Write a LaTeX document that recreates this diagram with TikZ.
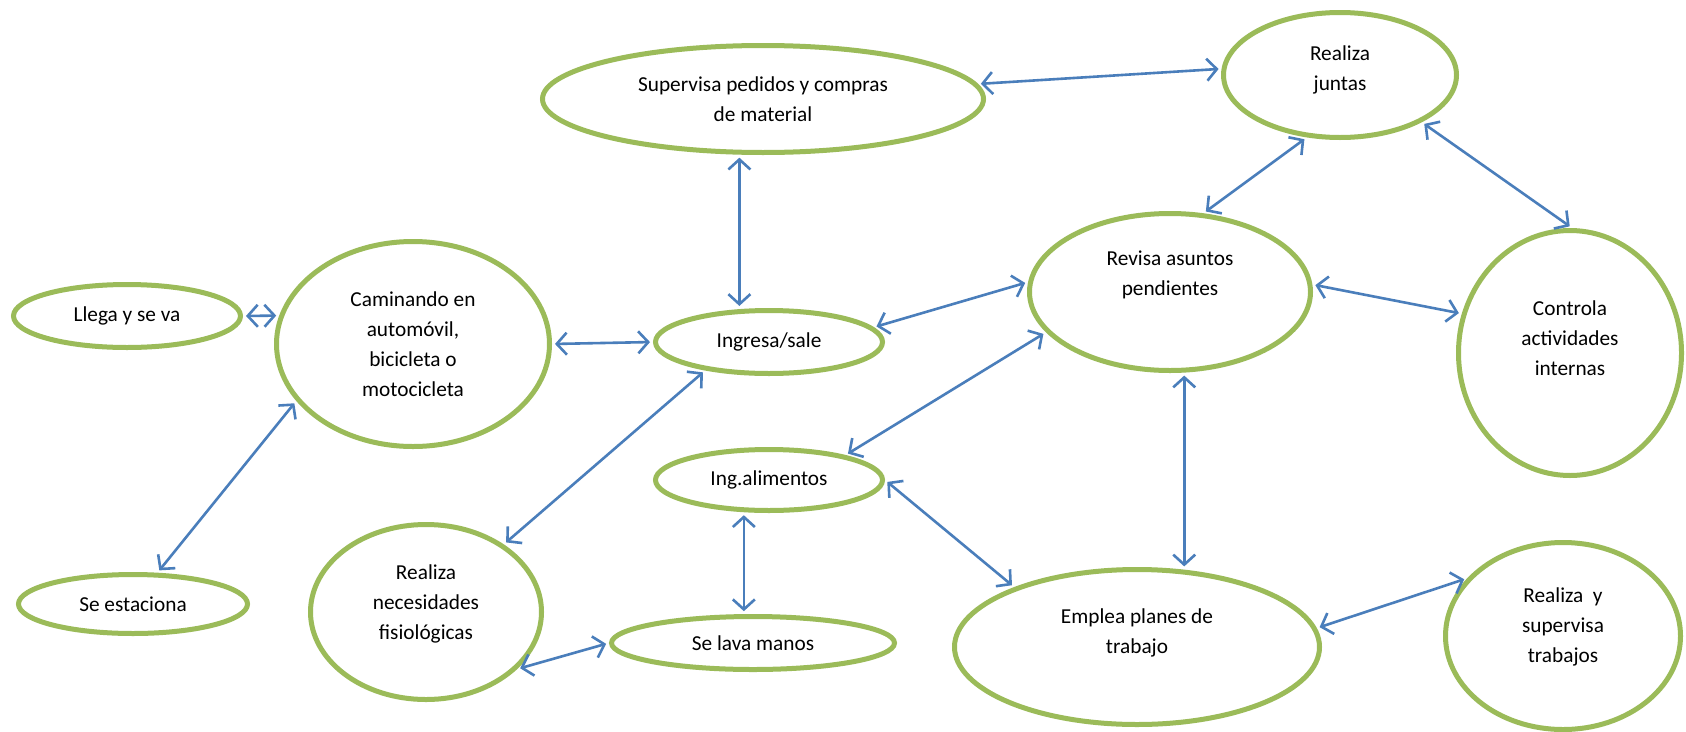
\documentclass[tikz,border=0pt]{standalone}
\usepackage{fontspec}
\setmainfont{Carlito}
\usetikzlibrary{arrows.meta,shapes.geometric}
\definecolor{elg}{HTML}{9BBB59}
\definecolor{arb}{HTML}{4A7EBB}
\begin{document}
\begin{tikzpicture}[x=1pt,y=-1pt,
  el/.style args={#1/#2}{ellipse, draw=elg, line width=5pt, minimum width=#1pt, minimum height=#2pt, inner sep=0pt, fill=white, font=\fontsize{21.3}{30}\selectfont, align=center},
  lab/.style={font=\fontsize{21.3}{30}\selectfont, align=center, inner sep=0pt},
  arr/.style={draw=arb, line width=2.6pt, shorten <=3pt, shorten >=3pt, {Straight Barb[length=10pt,width=22pt]}-{Straight Barb[length=10pt,width=22pt]}}]
\useasboundingbox[fill=white] (0,0) rectangle (1686,731);
\node[el=227/63] (llega) at (127,316) {Llega y se va};
\node[el=273/205] (cam) at (413,344) {Caminando en\\automóvil,\\bicicleta o\\motocicleta};
\node[el=229/59] (est) at (133,604) {Se estaciona};
\node[el=441/107] (sup) at (763,99) {Supervisa pedidos y compras\\de material};
\node[el=227/63] (ing) at (769,342) {Ingresa/sale};
\node[el=233/125, label={[lab,yshift=5pt]center:{Realiza\\juntas}}] (jun) at (1340,75) {};
\node[el=281/157, label={[lab,yshift=17pt]center:{Revisa asuntos\\pendientes}}] (rev) at (1170,292) {};
\node[el=223/245, label={[lab,yshift=15pt]center:{Controla\\actividades\\internas}}] (con) at (1570,353) {};
\node[el=227/61] (ali) at (769,480) {Ing.alimentos};
\node[el=231/175, label={[lab,yshift=8pt]center:{Realiza\\necesidades\\fisiológicas}}] (nec) at (426,612) {};
\node[el=283/53] (lav) at (753,643) {Se lava manos};
\node[el=365/155, label={[lab,yshift=14pt]center:{Emplea planes de\\trabajo}}] (emp) at (1137,647) {};
\node[el=235/187, label={[lab,yshift=9pt]center:{Realiza\ \ y\\supervisa\\trabajos}}] (rys) at (1563,636) {};
\draw[arr] (llega.0) -- (cam.168);
\draw[arr] (cam.0) -- (ing.180);
\draw[arr] (sup.247) -- (sup.247 |- ing.129);
\draw[arr] (sup.4) -- (jun.177);
\draw[arr] (ing.8) -- (rev.176);
\draw[arr] (jun.242) -- (rev.67);
\draw[arr] (jun.-30) -- (con.89);
\draw[arr] (rev.3) -- (con.160);
\draw[arr] (cam.206) -- (est.52);
\draw[arr] (ing.204) -- (nec.41);
\draw[arr] (rev.198) -- (ali.18);
\draw[arr] (rev.280) -- (rev.280 |- emp.60);
\draw[arr] (ali.0) -- (emp.154);
\draw[arr] (ali.232) -- (ali.232 |- lav.117);
\draw[arr] (nec.-32) -- (lav.180);
\draw[arr] (emp.6) -- (rys.149);
\end{tikzpicture}
\end{document}
